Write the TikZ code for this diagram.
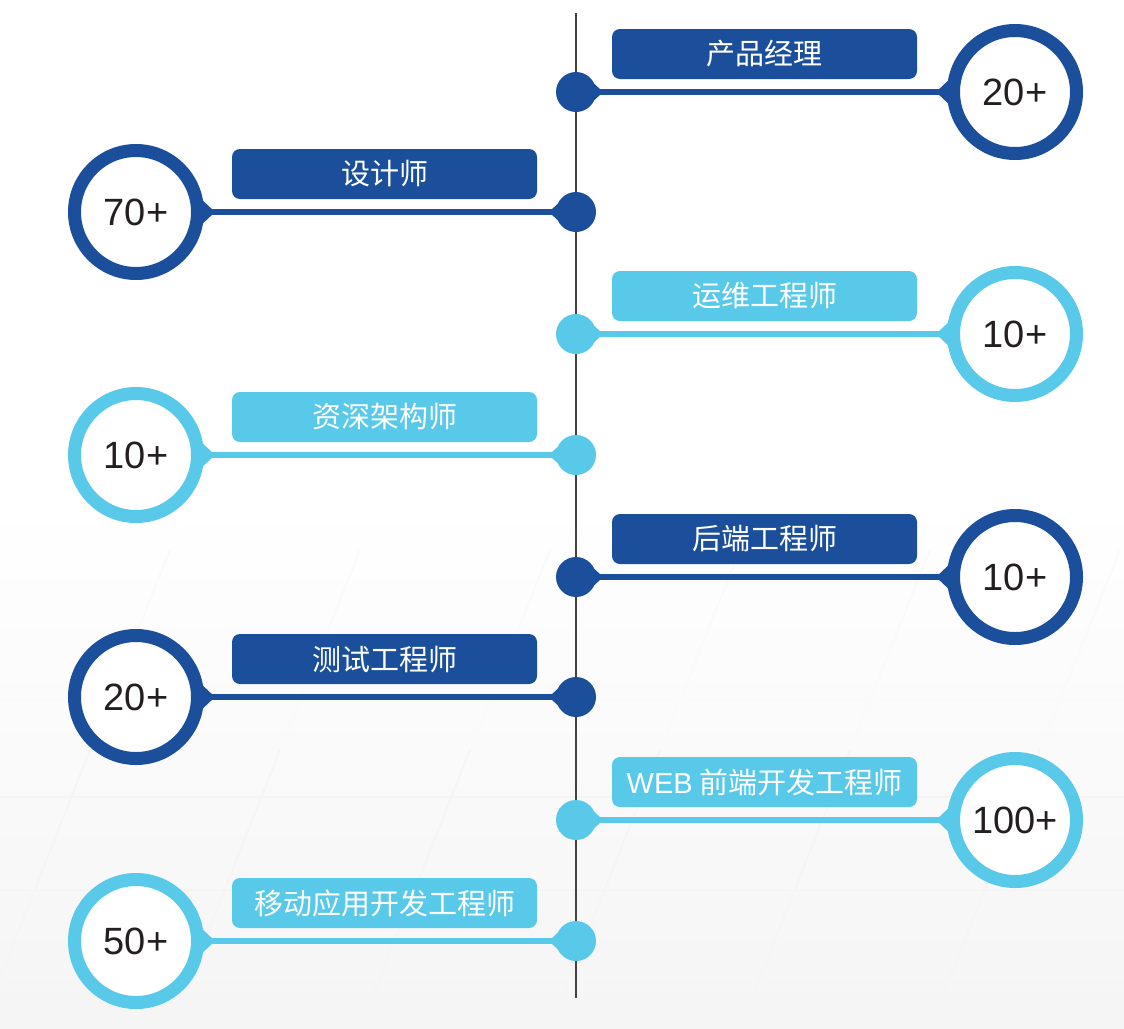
\documentclass[tikz,border=0pt]{standalone}
\usepackage{fontspec}
\setmainfont{Liberation Sans}
\newfontfamily\cjk{Noto Sans CJK SC}
\definecolor{dblue}{RGB}{27,79,155}
\definecolor{lblue}{RGB}{88,201,233}
\definecolor{numtxt}{RGB}{35,31,32}
\tikzset{
  labelbox/.style={rounded corners=8pt, minimum width=305pt, minimum height=50pt, inner sep=0pt, text=white, font=\cjk\fontsize{29}{31}\selectfont},
  ring/.style={circle, line width=13pt, fill=white, minimum size=123pt, inner sep=0pt, text=numtxt, font=\fontsize{38}{40}\selectfont},
  tdot/.style={circle, minimum size=40pt, inner sep=0pt},
  conn/.style={line width=6pt},
  axis/.style={line width=1.5pt, draw=numtxt!85},
  gridln/.style={line width=2pt, draw=black!4},
  gridfaint/.style={line width=2pt, draw=black!2}
}
\newcommand\rightitem[5]{%
  \node[tdot, fill=#3] (#1d) at (576,#2) {};
  \node[ring, draw=#3] (#1c) at (1015,#2) {#5};
  \node[labelbox, fill=#3] (#1b) at (764.5,#2-38) {#4};
  \draw[conn, #3] (#1d) -- (#1c);
  \fill[#3, rounded corners=3pt] ([xshift=-11pt]#1c.west) -- ([xshift=7pt,yshift=17pt]#1c.west) -- ([xshift=7pt,yshift=-17pt]#1c.west) -- cycle;
  \fill[#3, rounded corners=2pt] ([xshift=7pt]#1d.east) -- ([xshift=-5pt,yshift=11pt]#1d.east) -- ([xshift=-5pt,yshift=-11pt]#1d.east) -- cycle;
}
\newcommand\leftitem[5]{%
  \node[tdot, fill=#3] (#1d) at (576,#2) {};
  \node[ring, draw=#3] (#1c) at (136,#2) {#5};
  \node[labelbox, fill=#3] (#1b) at (384.5,#2-38) {#4};
  \draw[conn, #3] (#1d) -- (#1c);
  \fill[#3, rounded corners=3pt] ([xshift=11pt]#1c.east) -- ([xshift=-7pt,yshift=17pt]#1c.east) -- ([xshift=-7pt,yshift=-17pt]#1c.east) -- cycle;
  \fill[#3, rounded corners=2pt] ([xshift=-7pt]#1d.west) -- ([xshift=5pt,yshift=11pt]#1d.west) -- ([xshift=5pt,yshift=-11pt]#1d.west) -- cycle;
}
\begin{document}
\begin{tikzpicture}[x=1pt,y=-1pt]
  \useasboundingbox (0,0) rectangle (1124,1028);
  \fill[white] (0,0) rectangle (1124,1028);
  \shade[top color=white, bottom color=black!4] (0,500) rectangle (1124,1028);
  % faint floor grid
  \draw[gridfaint] (0,700) -- (1124,700);
  \foreach \yy in {797,890,983} {\draw[gridln] (0,\yy) -- (1124,\yy);}
  \foreach \xx in {-200,-20,170,360,550,740,930,1120} {
    \draw[gridln] (\xx,1028) -- (\xx+110,750);
    \draw[gridfaint] (\xx+110,750) -- (\xx+190,550);
  }
  % axis
  \coordinate (axtop) at (576,13);
  \coordinate (axbot) at (576,998);
  \draw[axis] (axtop) -- (axbot);
  \rightitem{r1}{92}{dblue}{产品经理}{20+}
  \leftitem{l1}{212}{dblue}{设计师}{70+}
  \rightitem{r2}{334}{lblue}{运维工程师}{10+}
  \leftitem{l2}{455}{lblue}{资深架构师}{10+}
  \rightitem{r3}{577}{dblue}{后端工程师}{10+}
  \leftitem{l3}{697}{dblue}{测试工程师}{20+}
  \rightitem{r4}{820}{lblue}{{\normalfont WEB} 前端开发工程师}{100+}
  \leftitem{l4}{941}{lblue}{移动应用开发工程师}{50+}
\end{tikzpicture}
\end{document}
